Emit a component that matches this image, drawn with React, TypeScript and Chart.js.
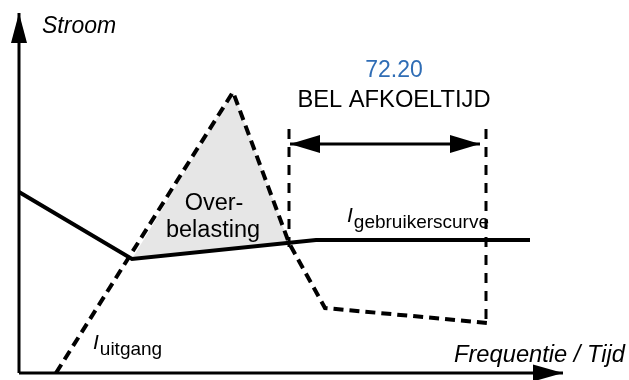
import React, { useEffect, useRef } from "react";
import { Chart, registerables } from "chart.js";

Chart.register(...registerables);

// Diagram coordinate frame (origin at the axes corner)
const xRange = [-19, 610];
const yRange = [-7, 373];

// Axes
const xAxisX = [0, 544];
const xAxisY = [0, 0];
const yAxisX = [0, 0];
const yAxisY = [0, 360];

// User current curve (solid)
const userCurveX = [0, 113, 297, 511];
const userCurveY = [181, 114, 133, 133];

// Output current curve (dashed)
const outputCurveX = [37, 214, 270, 306, 469];
const outputCurveY = [0, 281, 130, 65, 50];

// Overload region (shaded)
const overloadX = [113, 214, 270, 113];
const overloadY = [114, 281, 130, 114];

// Cooling time markers
const coolStartX = [270, 270];
const coolStartY = [244, 125];
const coolEndX = [467, 467];
const coolEndY = [244, 49];
const spanX = [271, 461];
const spanY = [229, 229];

// Arrow heads (triangles)
const headYAxisX = [-8, 0, 8, -8];
const headYAxisY = [330, 360, 330, 330];
const headXAxisX = [514, 544, 514, 514];
const headXAxisY = [-8.5, 0, 8.5, -8.5];
const headSpanLX = [301, 271, 301, 301];
const headSpanLY = [238, 229, 220, 238];
const headSpanRX = [431, 461, 431, 431];
const headSpanRY = [238, 229, 220, 238];

// Text annotations
const labelText = ["Stroom", "Frequentie / Tijd", "72.20", "BEL AFKOELTIJD", "Over-", "belasting"];
const labelX = [23, 435, 375, 375, 195, 194];
const labelY = [340, 11, 296, 266, 163, 136];
const subLabelMain = ["I", "I"];
const subLabelSub = ["uitgang", "gebruikerscurve"];
const subLabelX = [74, 328];
const subLabelY = [24, 151];

const toPts = (xs: number[], ys: number[]) => xs.map((x, i) => ({ x, y: ys[i] }));

const FONT = '"Liberation Sans", Arial, sans-serif';

export default function App() {
  const ref = useRef<HTMLCanvasElement | null>(null);

  useEffect(() => {
    document.body.style.margin = "0";
    const canvas = ref.current;
    if (!canvas) return;

    const line = (xs: number[], ys: number[], extra: any) => ({
      data: toPts(xs, ys),
      showLine: true,
      pointRadius: 0,
      borderColor: "#000",
      borderWidth: 3,
      fill: false,
      tension: 0,
      borderCapStyle: "butt",
      borderJoinStyle: "miter",
      ...extra,
    });
    const tri = (xs: number[], ys: number[]) =>
      line(xs, ys, { borderWidth: 0, borderColor: "rgba(0,0,0,0)", backgroundColor: "#000", fill: "shape", order: 0 });

    const textPlugin = {
      id: "texts",
      afterDraw(chart: any) {
        const { ctx } = chart;
        const sx = chart.scales.x;
        const sy = chart.scales.y;
        ctx.save();
        ctx.textBaseline = "alphabetic";
        labelText.forEach((t, i) => {
          const px = sx.getPixelForValue(labelX[i]);
          const py = sy.getPixelForValue(labelY[i]);
          if (i === 0) {
            ctx.font = `italic 23px ${FONT}`;
            ctx.textAlign = "left";
            ctx.fillStyle = "#000";
          } else if (i === 1) {
            ctx.font = `italic 23.7px ${FONT}`;
            ctx.textAlign = "left";
            ctx.fillStyle = "#000";
          } else if (i === 2) {
            ctx.font = `23px ${FONT}`;
            ctx.textAlign = "center";
            ctx.fillStyle = "#2f6db5";
          } else if (i === 3) {
            ctx.font = `23.7px ${FONT}`;
            ctx.textAlign = "center";
            ctx.fillStyle = "#000";
          } else {
            ctx.font = `23.5px ${FONT}`;
            ctx.textAlign = "center";
            ctx.fillStyle = "#000";
          }
          ctx.fillText(t, px, py);
        });
        subLabelMain.forEach((m, i) => {
          const px = sx.getPixelForValue(subLabelX[i]);
          const py = sy.getPixelForValue(subLabelY[i]);
          ctx.fillStyle = "#000";
          ctx.textAlign = "left";
          ctx.font = `italic 21px ${FONT}`;
          ctx.fillText(m, px, py);
          const w = ctx.measureText(m).width;
          ctx.font = `19px ${FONT}`;
          ctx.fillText(subLabelSub[i], px + w + 1, py + 6);
        });
        ctx.restore();
      },
    };

    const chart = new Chart(canvas, {
      type: "scatter",
      data: {
        datasets: [
          line(xAxisX, xAxisY, { borderWidth: 3, order: 1 }),
          line(yAxisX, yAxisY, { borderWidth: 3, order: 1 }),
          tri(headYAxisX, headYAxisY),
          tri(headXAxisX, headXAxisY),
          tri(headSpanLX, headSpanLY),
          tri(headSpanRX, headSpanRY),
          line(spanX, spanY, { borderWidth: 3, order: 1 }),
          line(coolStartX, coolStartY, { borderWidth: 3, borderDash: [10, 8], order: 2 }),
          line(coolEndX, coolEndY, { borderWidth: 3, borderDash: [10, 8], order: 2 }),
          line(userCurveX, userCurveY, { borderWidth: 4, order: 1 }),
          line(outputCurveX, outputCurveY, { borderWidth: 4, borderDash: [10, 6], order: 1 }),
          line(overloadX, overloadY, {
            borderWidth: 0,
            borderColor: "rgba(0,0,0,0)",
            backgroundColor: "#e6e6e6",
            fill: "shape",
            order: 5,
          }),
        ],
      },
      options: {
        responsive: false,
        animation: false,
        devicePixelRatio: 1,
        layout: { padding: 0 },
        plugins: { legend: { display: false }, tooltip: { enabled: false } },
        scales: {
          x: { type: "linear", min: xRange[0], max: xRange[1], display: false },
          y: { type: "linear", min: yRange[0], max: yRange[1], display: false },
        },
      },
      plugins: [textPlugin],
    });
    return () => chart.destroy();
  }, []);

  return (
    <div style={{ width: 629, height: 380, background: "#fff" }}>
      <canvas ref={ref} width={629} height={380} style={{ display: "block" }} />
    </div>
  );
}
